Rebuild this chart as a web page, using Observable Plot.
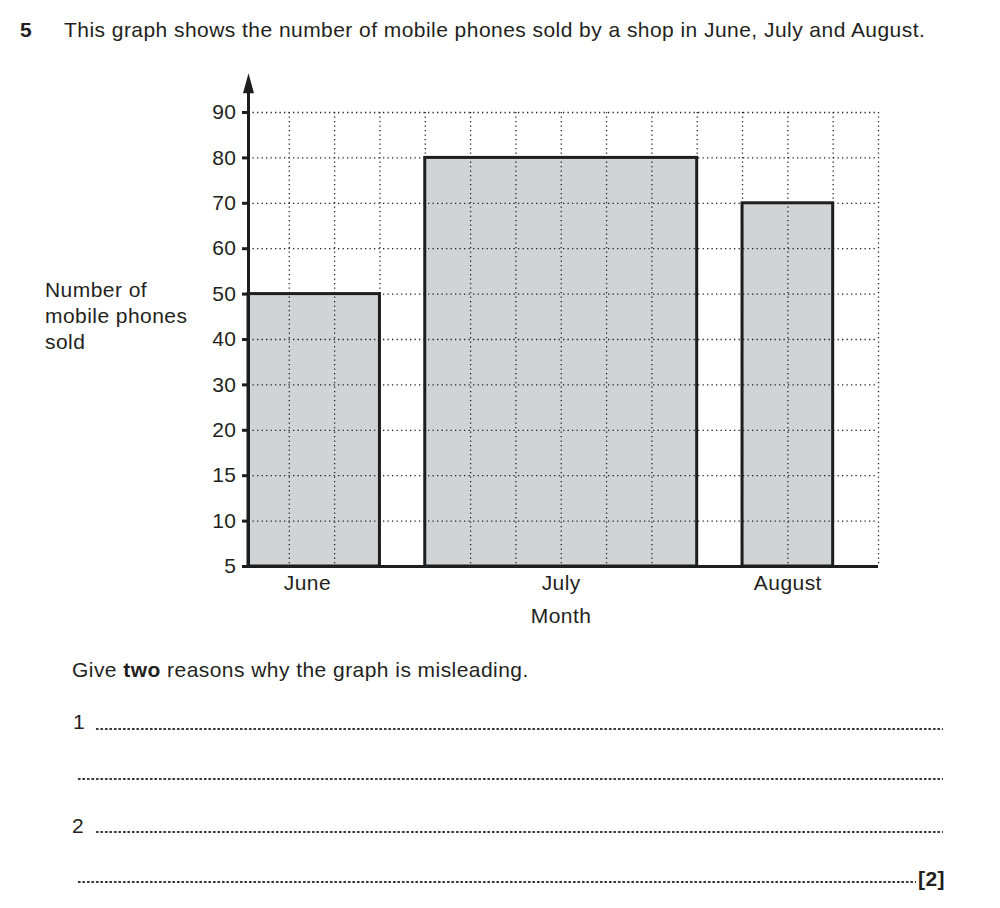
<!DOCTYPE html>
<html>
<head>
<meta charset="utf-8">
<script src="https://cdn.jsdelivr.net/npm/d3@7"></script>
<script src="https://cdn.jsdelivr.net/npm/@observablehq/plot@0.6"></script>
<style>
  html, body { margin: 0; padding: 0; background: #fff; }
  #page { position: relative; width: 1000px; height: 908px; overflow: hidden;
          font-family: "Liberation Sans", Arial, Helvetica, sans-serif; color: #231f20; }
  #chart { position: absolute; left: 0; top: 0; }
  .t { position: absolute; font-size: 21px; line-height: 21px; letter-spacing: 0.45px; white-space: nowrap; }
  .b { font-weight: bold; }
  .dots { position: absolute; height: 4px;
          background-image: radial-gradient(circle at center, #333 1px, rgba(0,0,0,0) 1.4px);
          background-size: 4.5px 4px; background-repeat: repeat-x; }
</style>
</head>
<body>
<div id="page">
  <div id="chart"></div>
  <div class="t b" style="left:20px;top:19px;">5</div>
  <div class="t" style="left:64px;top:19px;">This graph shows the number of mobile phones sold by a shop in June, July and August.</div>
  <div class="t" style="left:45px;top:279px;">Number of</div>
  <div class="t" style="left:45px;top:305px;">mobile phones</div>
  <div class="t" style="left:45px;top:331px;">sold</div>
  <div class="t" style="left:461px;top:605px;width:200px;text-align:center;">Month</div>
  <div class="t" style="left:72px;top:659px;">Give <span class="b">two</span> reasons why the graph is misleading.</div>
  <div class="t" style="left:73px;top:711px;">1</div>
  <div class="dots" style="left:95px;top:727px;width:848px;"></div>
  <div class="dots" style="left:77px;top:777px;width:866px;"></div>
  <div class="t" style="left:72px;top:815px;">2</div>
  <div class="dots" style="left:95px;top:830px;width:848px;"></div>
  <div class="dots" style="left:77px;top:880px;width:839px;"></div>
  <div class="t b" style="left:918px;top:868px;">[2]</div>
</div>
<script>
// ---- data ----
const months = ["June", "July", "August"];
const sold = [50, 80, 70];
const yTicks = [5, 10, 15, 20, 30, 40, 50, 60, 70, 80, 90];
// bar extents along the month axis, in grid squares
const barStart = [0.1, 4, 11];
const barEnd = [3, 10, 13];
// month label positions, in grid squares
const labelPos = [1.4, 7, 12];
// grid columns
const gridCols = [1, 2, 3, 4, 5, 6, 7, 8, 9, 10, 11, 12, 13, 14];

const ink = "#1e1e1e";
const bars = months.map((m, i) => ({
  month: m,
  sold: sold[i],
  start: barStart[i],
  end: barEnd[i],
  level: yTicks.indexOf(sold[i])
}));
const levels = yTicks.map((d, i) => i);
const topLevel = yTicks.length - 1;

const arrowHead = {
  draw(ctx) {
    ctx.moveTo(0, -12);
    ctx.lineTo(5.5, 8);
    ctx.lineTo(-5.5, 8);
    ctx.closePath();
  }
};

const chart = Plot.plot({
  width: 1000,
  height: 640,
  marginLeft: 248,
  marginRight: 122,
  marginTop: 112,
  marginBottom: 74,
  style: { fontFamily: "Liberation Sans, Arial, sans-serif", fontSize: "21px", letterSpacing: "0.45px", color: "#231f20", background: "transparent", overflow: "visible" },
  x: { type: "linear", domain: [barStart[0], gridCols[gridCols.length - 1]], axis: null },
  y: { type: "linear", domain: [0, topLevel], axis: null },
  marks: [
    Plot.rect(bars, { x1: "start", x2: "end", y1: 0, y2: "level", fill: "#d1d3d4" }),
    Plot.gridY(levels, { stroke: "#222", strokeOpacity: 1, strokeWidth: 1.3, strokeDasharray: "1.3,3.2" }),
    Plot.gridX(gridCols, { stroke: "#222", strokeOpacity: 1, strokeWidth: 1.3, strokeDasharray: "1.3,3.2" }),
    Plot.rect(bars, { x1: "start", x2: "end", y1: 0, y2: "level", fill: "none", stroke: ink, strokeWidth: 3 }),
    Plot.ruleY([0], { stroke: ink, strokeWidth: 3 }),
    Plot.ruleX([barStart[0]], { y1: 0, y2: topLevel + 0.45, stroke: ink, strokeWidth: 3 }),
    Plot.dot([0], { x: () => barStart[0], y: () => topLevel + 0.6, symbol: arrowHead, fill: ink, stroke: "none" }),
    Plot.axisY(levels, { label: null, tickFormat: (i) => yTicks[i], tickSize: 6, tickPadding: 6, strokeWidth: 3, stroke: ink, fontSize: 21, fill: "#231f20" }),
    Plot.axisX(labelPos, { label: null, tickFormat: (d) => months[labelPos.indexOf(d)], tickSize: 0, tickPadding: 9, fontSize: 21, fill: "#231f20" })
  ]
});
document.getElementById("chart").appendChild(chart);
</script>
</body>
</html>
